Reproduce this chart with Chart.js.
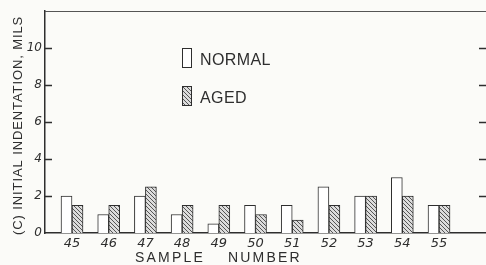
<!DOCTYPE html>
<html>
<head>
<meta charset="utf-8">
<script src="https://cdn.jsdelivr.net/npm/chart.js@4.4.1/dist/chart.umd.min.js"></script>
<style>
    html, body { margin: 0; padding: 0; background: #fbfbf8; }
    #wrap { width: 486px; height: 265px; position: relative; }
</style>
</head>
<body>
<div id="wrap"><canvas id="indentChart"></canvas></div>
<script>
    // Data
    const samples = [45, 46, 47, 48, 49, 50, 51, 52, 53, 54, 55];
    const normalVals = [2, 1, 2, 1, 0.5, 1.5, 1.5, 2.5, 2, 3, 1.5];
    const agedVals = [1.5, 1.5, 2.5, 1.5, 1.5, 1, 0.7, 1.5, 2, 2, 1.5];
    const yTicks = [0, 2, 4, 6, 8, 10];
    const seriesNames = ['NORMAL', 'AGED'];
    const yTitle = '(C) INITIAL INDENTATION, MILS';
    const xTitle = ['SAMPLE', 'NUMBER'];

    const ink = '#2e2e2e';

    // hatched fill for the aged bars
    function makeHatch() {
        const p = document.createElement('canvas');
        p.width = 4; p.height = 4;
        const g = p.getContext('2d');
        g.fillStyle = '#dcdcdc';
        g.fillRect(0, 0, 4, 4);
        g.strokeStyle = '#555';
        g.lineWidth = 1;
        g.beginPath();
        g.moveTo(-1, -1); g.lineTo(5, 5);
        g.moveTo(-1, 3); g.lineTo(1, 5);
        g.moveTo(3, -1); g.lineTo(5, 1);
        g.stroke();
        return g.createPattern(p, 'repeat');
    }
    const hatch = makeHatch();

    // frame, inner ticks, legend and titles
    const decorPlugin = {
        id: 'decor',
        afterDraw(chart) {
            const ctx = chart.ctx;
            const a = chart.chartArea;
            const y = chart.scales.y;
            ctx.save();
            ctx.strokeStyle = '#555';
            ctx.lineWidth = 1.2;
            ctx.beginPath();
            ctx.moveTo(a.left, a.top + 0.5);
            ctx.lineTo(a.right, a.top + 0.5);
            ctx.stroke();

            ctx.strokeStyle = ink;
            ctx.lineWidth = 1.3;
            yTicks.forEach(v => {
                if (v === 0) return;
                const py = Math.round(y.getPixelForValue(v)) + 0.5;
                ctx.beginPath();
                ctx.moveTo(a.left, py); ctx.lineTo(a.left + 7, py);
                ctx.moveTo(a.right - 7, py); ctx.lineTo(a.right, py);
                ctx.stroke();
            });

            // legend
            const fills = ['#ffffff', hatch];
            const boxY = [48, 86];
            ctx.font = '16px "Liberation Sans", Arial, sans-serif';
            ctx.letterSpacing = '0.4px';
            ctx.textBaseline = 'alphabetic';
            ctx.textAlign = 'left';
            seriesNames.forEach((name, i) => {
                ctx.fillStyle = fills[i];
                ctx.fillRect(182, boxY[i], 10, 20);
                ctx.strokeStyle = ink;
                ctx.lineWidth = 1;
                ctx.strokeRect(182.5, boxY[i] + 0.5, 9, 19);
                ctx.fillStyle = ink;
                ctx.fillText(name, 200, boxY[i] + 17);
            });

            // x title
            ctx.font = '14px "Liberation Sans", Arial, sans-serif';
            ctx.letterSpacing = '2.2px';
            ctx.fillText(xTitle[0], 135, 262);
            ctx.fillText(xTitle[1], 228, 262);

            // y title
            ctx.translate(21.5, 235);
            ctx.rotate(-Math.PI / 2);
            ctx.font = '13px "Liberation Sans", Arial, sans-serif';
            ctx.letterSpacing = '0.9px';
            ctx.fillText(yTitle, 0, 0);
            ctx.restore();
        }
    };

    document.addEventListener('DOMContentLoaded', function () {
        const ctx = document.getElementById('indentChart').getContext('2d');

        new Chart(ctx, {
            type: 'bar',
            data: {
                datasets: [{
                    label: seriesNames[0],
                    data: samples.map((s, i) => ({ x: s, y: normalVals[i] })),
                    backgroundColor: '#ffffff',
                    borderColor: ink,
                    borderWidth: 1,
                    barThickness: 11
                }, {
                    label: seriesNames[1],
                    data: samples.map((s, i) => ({ x: s, y: agedVals[i] })),
                    backgroundColor: hatch,
                    borderColor: ink,
                    borderWidth: 1,
                    barThickness: 11
                }]
            },
            options: {
                responsive: true,
                maintainAspectRatio: false,
                animation: false,
                layout: { padding: { top: 11, right: 0, left: 0, bottom: 0 } },
                scales: {
                    x: {
                        type: 'linear',
                        offset: false,
                        min: 44.264,
                        max: 56.28,
                        afterBuildTicks: s => { s.ticks = samples.map(v => ({ value: v })); },
                        afterFit: s => { s.height = 32; },
                        grid: { display: false, drawTicks: false, offset: false },
                        border: { display: true, color: ink, width: 1.5 },
                        ticks: {
                            autoSkip: false,
                            maxRotation: 0,
                            padding: 3,
                            color: ink,
                            font: { family: '"DejaVu Sans", sans-serif', size: 13, style: 'italic' },
                            callback: v => String(v)
                        }
                    },
                    y: {
                        min: 0,
                        max: 12,
                        afterBuildTicks: s => { s.ticks = yTicks.map(v => ({ value: v })); },
                        afterFit: s => { s.width = 45; },
                        grid: { display: false, drawTicks: false },
                        border: { display: true, color: ink, width: 1.5 },
                        ticks: {
                            padding: 3,
                            color: ink,
                            font: { family: '"DejaVu Sans", sans-serif', size: 12, style: 'italic' }
                        }
                    }
                },
                plugins: {
                    legend: { display: false },
                    tooltip: { enabled: false }
                }
            },
            plugins: [decorPlugin]
        });
    });
</script>
</body>
</html>
